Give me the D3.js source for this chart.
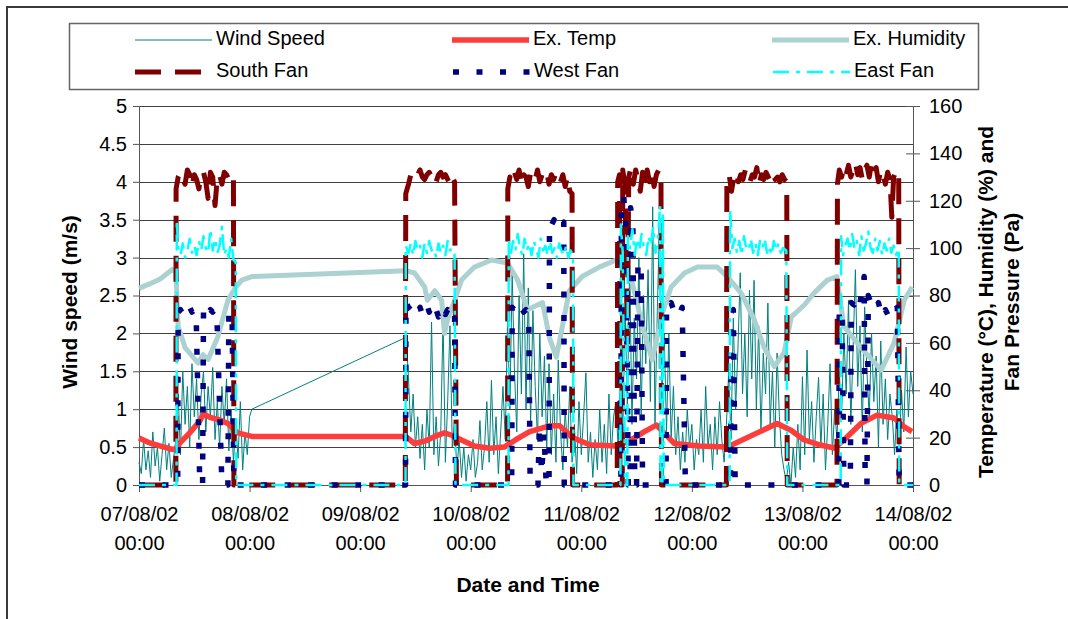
<!DOCTYPE html>
<html>
<head>
<meta charset="utf-8">
<script src="https://cdn.jsdelivr.net/npm/d3@7"></script>
<style>
  body { margin: 0; background: #fff; }
  text { font-family: "Liberation Sans", Arial, sans-serif; fill: #000; }
</style>
</head>
<body>
<svg id="chart" width="1068" height="619"></svg>
<script>
// ---- data (hours from 07/08/02 00:00) ----
var windStart1 = 0, windStart2 = 58, windStep = 0.5;
var windSeg1 = [
  0.3,0.15,0.6,0.2,0.45,0.1,0.7,0.25,0.5,0.05,0.4,0.75,0.2,0.55,0.1,0.35,
  0.6,1.2,0.4,1.5,0.8,1.3,0.5,1.6,0.9,1.4,0.6,1.2,1.5,0.7,1.3,0.9,1.55,0.6,1.1,0.5,1.3,0.8,1.4,0.45,1.0,
  0.3,0.8,0.35,1.1,0.2,0.7,0.4,0.9,1.0
];
var windSeg2 = [
  1.95,1.4,0.7,1.2,0.5,0.9,0.35,0.8,
  0.2,1.0,0.5,2.15,0.4,0.9,0.25,0.7,
  2.2,0.3,1.1,2.1,0.5,0.8,0.2,0.6,
  0.1,0.5,0.05,0.4,0.2,0.6,0.1,0.3,
  0.85,0.2,0.5,1.1,0.3,1.38,0.4,0.9,0.15,0.7,
  1.3,0.6,2.2,1.0,2.8,1.5,0.7,2.5,1.2,3.05,
  1.0,2.6,0.8,2.3,1.3,0.6,2.0,0.9,1.7,0.5,
  1.6,0.4,1.2,0.3,1.65,0.7,0.2,1.0,0.5,1.3,
  0.3,0.8,0.15,1.1,0.4,0.9,1.48,0.3,0.7,0.1,0.6,0.2,
  1.0,0.3,0.8,0.15,1.2,0.4,0.9,1.08,0.5,
  1.5,0.6,2.4,1.0,2.9,0.8,2.2,1.4,3.0,0.9,2.5,
  1.6,2.84,1.1,3.67,0.8,2.3,3.5,1.2,2.0,0.7,
  2.0,0.6,1.3,0.4,0.9,0.2,0.7,0.3,1.0,0.5,0.8,0.2,0.6,
  0.4,1.0,0.3,1.3,0.5,0.8,0.2,0.9,0.4,1.1,0.6,0.3,
  0.8,1.5,0.6,2.2,1.0,1.8,2.8,1.2,2.0,0.9,2.57,1.4,2.7,1.0,2.1,0.7,1.74,1.2,2.4,0.8,1.5,0.5,1.74,0.9,0.4,
  0.2,0.05,0.3,0.0,0.5,0.1,0.8,0.2,
  1.43,0.4,1.78,0.6,1.1,0.3,0.9,1.42,0.5,1.2,0.2,0.8,1.6,0.4,1.0,
  0.6,1.5,0.9,2.0,1.2,2.44,0.8,1.8,2.84,1.3,2.1,0.7,2.35,1.5,0.9,2.0,1.1,1.7,0.5,1.9,0.8,1.4,0.6,1.2,0.9,
  0.4,1.0,0.5,1.25,0.7,1.82,0.9,1.5,1.2
];

var exTemp = [
  [0,19.8],[2,18],[4.5,16.5],[7.2,15],[8.0,15.5],[9,18],[11,22],[13.2,27],[14,30],[15.5,28.5],
  [17.5,27.5],[19.3,26],[21.4,22],[24.5,20.5],[57.7,20.5],[58.0,20.3],[59.8,17.5],[62,18.5],
  [64.2,20.5],[66.3,22],[67.9,21],[70,19],[72.8,16.5],[76.1,15.5],[79.3,16],[81.7,19],[84.8,22.5],
  [89.1,25],[91.3,25],[94.1,20],[97.8,17],[103.6,16.5],[106.4,18.5],[109.7,22.5],[112.3,25.3],
  [114,22],[116.2,17.5],[121.6,16.5],[127.7,16],[129.9,18],[134.2,22],[138.5,26],[141.6,23],
  [144.4,19],[147.6,17],[150.9,15.6],[153,19],[156.7,26],[160.2,29.5],[163.9,28.3],[166.1,24.5],[167.8,22.5]
];

var exHumidity = [
  [0,83],[2.4,85],[4.6,87],[7.2,91],[8.0,90],[8.5,67],[10,58],[12.8,51.5],[13.9,55],[15,53],
  [17.1,62.5],[19.3,78],[20.8,83],[22.3,86.5],[24.5,88],[57.9,90.5],[59.8,89.5],[62,83.6],[62.6,78],
  [64.2,82],[65.7,78],[66.3,64],[67,70],[68.5,78],[70,86.5],[72.8,92],[76.5,95],[80,93.7],[82.2,86.5],
  [84.3,74],[87.6,77],[89.1,62],[90.6,54],[91.9,67],[93.4,82],[96.2,88],[99.9,92],[103.6,95],[104.7,94],
  [107.1,85],[109.3,67],[111.4,52.8],[113.6,72.6],[115.5,83.6],[118.4,89.5],[121.2,92],[125.5,92],
  [127.7,88],[130.7,81],[133.5,70],[135.7,58],[137.9,50],[140,55.7],[141.6,71],[144.4,76],[146.5,81],
  [149.4,86.5],[151.5,88],[153,67],[156.7,58],[161.1,48.5],[163.9,60],[166.1,78],[167.8,83.6]
];

var southFan = [
  [0,0],[8.0,0],[8.05,125],[8.5,130],[9,132],[9.5,129],[10,127],[10.5,133],[11,131],[11.5,126],[12,131],
  [12.5,129],[13,125],[13.5,131],[14,132],[14.5,128],[15,121],[15.5,132],[16,130],[16.5,118],[17,130],
  [17.5,131],[18,127],[18.5,132],[19,131],[19.5,129],[20,131],[20.5,130],[20.6,0],
  [57.8,0],[57.9,123],[58.5,127],[59,131],[59.5,130],[60,132],[60.5,131],[61,133],[61.5,130],[62,129],
  [62.5,131],[63,132],[63.5,130],[64,131],[64.5,128],[65,131],[65.5,132],[66,130],[66.5,131],[67,129],
  [67.5,127],[68,130],[68.5,128],[68.9,0],
  [80.0,0],[80.05,125],[80.5,130],[81,128],[81.5,132],[82,129],[82.5,133],[83,127],[83.5,131],[84,130],
  [84.5,126],[85,132],[85.5,131],[86,129],[86.5,133],[87,128],[87.5,131],[88,130],[88.5,132],[89,127],
  [89.5,131],[90,129],[90.5,132],[91,130],[91.5,128],[92,131],[92.5,126],[93,130],[93.5,124],[94.0,123],[94.1,0],
  [103.8,0],[103.9,128],[104.3,131],[104.4,0],[104.9,0],[105,133],[105.5,126],[106,60],[106.3,130],
  [106.8,134],[107.3,127],[107.8,133],[108.3,129],[108.8,124],[109.3,132],[109.8,126],[110.3,133],
  [110.8,128],[111.3,132],[111.8,126],[112.3,131],[112.8,133],[113.3,130],[113.4,0],
  [127.5,0],[127.6,128],[128.1,131],[128.6,124],[129.1,130],[129.6,132],[130.1,128],[130.6,131],[131.1,129],
  [131.6,133],[132.1,130],[132.6,128],[133.1,131],[133.6,130],[134.1,134],[134.6,127],[135.1,131],
  [135.6,129],[136.1,132],[136.6,130],[137.1,128],[137.6,131],[138.1,129],[138.6,130],[139.1,128],
  [139.6,131],[140.1,129],[140.6,128],[140.7,0],
  [151.5,0],[151.6,127],[152,133],[152.5,130],[153,134],[153.5,131],[154,135],[154.5,130],[155,133],
  [155.5,136],[156,131],[156.5,134],[157,129],[157.5,133],[158,135],[158.5,130],[159,136],[159.5,132],
  [160,134],[160.5,128],[161,133],[161.5,131],[162,127],[162.5,132],[163,129],[163.4,113],[163.8,130],
  [164.4,133],[164.9,131],[165.0,0],[168,0]
];

var westFan = [
  [0,0],[8.4,0],[8.5,73],[9,74],[9.5,72],[10,74],[10.5,73],[11,75],[11.5,73],[12,74],[12.4,72],[13.2,0],
  [13.8,0],[14,73],[14.5,75],[15,72],[15.5,74],[16,73],[16.5,74],[16.9,72],[18.0,0],[19.3,0],[19.5,72],
  [20.2,73],[20.6,0],
  [57.85,0],[57.95,77],[58.5,75],[59,74],[59.5,76],[60,74],[60.5,73],[61,75],[61.5,72],[62,74],[62.5,76],
  [63,73],[63.5,75],[64,72],[64.5,74],[65,71],[65.5,73],[66,75],[66.5,72],[67,74],[67.5,73],[68,71],
  [68.5,73],[68.7,0],
  [80.9,0],[81.0,75],[81.5,74],[82,76],[82.5,74],[83,75],[83.5,73],[84,74],[84.6,72],[84.9,0],[86.6,0],
  [86.9,25],[87.4,5],[87.9,22],[88.4,0],[89.0,0],[89.1,111],[89.6,110],[90.1,112],[90.6,109],[91.1,111],
  [91.6,110],[92.2,111],[92.3,0],
  [104.6,0],[104.7,116],[105.2,122],[105.7,108],[106.2,0],[106.6,0],[106.7,117],[107.2,110],[107.6,0],
  [108,0],[108.3,94],[109.0,92],[109.3,0],[114.4,0],[114.5,76],[115,75],[115.5,77],[116,74],[116.5,76],
  [117,75],[117.5,73],[117.9,75],[118.6,0],
  [128.4,0],[128.5,73],[129.0,74],[129.4,0],
  [151.9,0],[152.0,74],[152.6,74],[153.0,0],[154.4,0],[154.6,77],[155.2,76],[155.8,78],[156.4,75],
  [157.0,84],[157.4,88],[157.6,6],[158.0,0],[158.3,80],[158.8,77],[159.5,78],[160,75],[160.5,77],
  [161,73],[161.5,71],[162,74],[162.5,72],[163,75],[163.5,73],[164,74],[164.6,75],[165.0,0],[168,0]
];

var eastFan = [
  [0,0],[8.15,0],[8.2,112],[8.5,100],[9,97],[9.5,102],[10,96],[10.5,99],[11,104],[11.5,98],[12,101],
  [12.5,97],[13,103],[13.5,99],[14,105],[14.5,100],[15,98],[15.5,108],[16,99],[16.5,104],[17,98],
  [17.5,101],[18,109],[18.5,97],[19,100],[19.5,96],[20,104],[20.5,95],[21.0,94],[21.1,0],
  [57.85,0],[57.9,101],[58.5,98],[59,102],[59.5,97],[60,103],[60.5,99],[61,101],[61.5,96],[62,102],
  [62.5,98],[63,103],[63.5,99],[64,100],[64.5,96],[65,102],[65.5,98],[66,101],[66.5,97],[67,103],
  [67.5,99],[68,100],[68.5,97],[68.7,0],
  [80.2,0],[80.25,104],[80.7,98],[81.2,103],[81.7,99],[82.2,106],[82.7,100],[83.2,97],[83.7,104],
  [84.2,99],[84.7,102],[85.2,97],[85.7,103],[86.2,100],[86.7,96],[87.2,104],[87.7,99],[88.2,101],
  [88.7,97],[89.2,103],[89.7,98],[90.2,100],[90.7,96],[91.2,102],[91.7,99],[92.2,97],[92.7,101],
  [93.2,96],[93.7,99],[94.2,97],[94.3,0],
  [104.5,0],[104.6,110],[105,98],[105.5,0],[106,0],[106.1,105],[106.6,100],[107.1,108],[107.6,97],
  [108.1,104],[108.6,99],[109.1,106],[109.6,100],[110.1,97],[110.6,105],[111.1,101],[111.6,109],
  [112.1,98],[112.6,103],[113.1,118],[113.2,0],[113.6,0],[113.7,115],[113.9,0],
  [128.2,0],[128.3,116],[128.8,100],[129.3,104],[129.8,98],[130.3,103],[130.8,97],[131.3,105],
  [131.8,100],[132.3,99],[132.8,104],[133.3,98],[133.8,102],[134.3,97],[134.8,103],[135.3,100],
  [135.8,104],[136.3,98],[136.8,101],[137.3,97],[137.8,103],[138.3,99],[138.8,102],[139.3,98],
  [139.8,100],[140.5,99],[140.7,0],
  [152.3,0],[152.4,105],[152.8,97],[153.3,101],[153.8,104],[154.3,99],[154.8,106],[155.3,100],
  [155.8,103],[156.3,97],[156.8,105],[157.3,99],[157.8,102],[158.3,107],[158.8,100],[159.3,98],
  [159.8,104],[160.3,99],[160.8,103],[161.3,97],[161.8,102],[162.3,99],[162.8,104],[163.3,98],
  [163.8,101],[164.3,97],[164.8,100],[164.9,98],[165.0,0],[168,0]
];

var leftTicks = [0,0.5,1,1.5,2,2.5,3,3.5,4,4.5,5];
var rightTicks = [0,20,40,60,80,100,120,140,160];

// ---- layout ----
var svg = d3.select("#chart");
var plot = {left: 139, right: 913, top: 106, bottom: 485};
var t0 = Date.UTC(2002, 7, 7);
function hour(h) { return new Date(t0 + h * 3600e3); }

var x = d3.scaleUtc().domain([hour(0), hour(168)]).range([plot.left, plot.right]);
var yL = d3.scaleLinear().domain([0, 5]).range([plot.bottom, plot.top]);
var yR = d3.scaleLinear().domain([0, 160]).range([plot.bottom, plot.top]);

// outer frame
svg.append("rect").attr("x", 7).attr("y", 7).attr("width", 1100).attr("height", 700)
  .attr("fill", "none").attr("stroke", "#3a3a3a").attr("stroke-width", 2);

// gridlines
svg.append("g").selectAll("line").data(leftTicks.slice(1)).enter().append("line")
  .attr("x1", plot.left).attr("x2", plot.right)
  .attr("y1", function(d){ return Math.round(yL(d)) + 0.5; })
  .attr("y2", function(d){ return Math.round(yL(d)) + 0.5; })
  .attr("stroke", "#404040").attr("stroke-width", 1);

// axes
var axL = svg.append("g").attr("transform", "translate(" + plot.left + ",0)")
  .call(d3.axisLeft(yL).tickValues(leftTicks).tickSize(6).tickPadding(6).tickFormat(d3.format("")));
var axR = svg.append("g").attr("transform", "translate(" + plot.right + ",0)")
  .call(d3.axisRight(yR).tickValues(rightTicks).tickSize(7).tickPadding(9));
axR.selectAll(".tick line").attr("x1", -7);
var axB = svg.append("g").attr("transform", "translate(0," + plot.bottom + ")")
  .call(d3.axisBottom(x).ticks(d3.utcDay.every(1)).tickSize(7).tickFormat(""));

[axL, axR, axB].forEach(function(a){
  a.select(".domain").attr("stroke", "#555");
  a.selectAll(".tick line").attr("stroke", "#555");
  a.selectAll("text").style("font-size", "20px").attr("fill", "#000");
});

var fmtDate = d3.utcFormat("%d/%m/%y"), fmtTime = d3.utcFormat("%H:%M");
axB.selectAll(".tick").each(function(d){
  var g = d3.select(this);
  g.append("text").attr("y", 36).attr("text-anchor", "middle").style("font-size", "20px").text(fmtDate(d));
  g.append("text").attr("y", 65).attr("text-anchor", "middle").style("font-size", "20px").text(fmtTime(d));
});

// axis titles
svg.append("text").attr("x", 528).attr("y", 592).attr("text-anchor", "middle")
  .style("font-size", "21px").style("font-weight", "bold").text("Date and Time");
svg.append("text").attr("transform", "translate(77,302) rotate(-90)").attr("text-anchor", "middle")
  .style("font-size", "21px").style("font-weight", "bold").text("Wind speed (m/s)");
svg.append("text").attr("transform", "translate(993,302) rotate(-90)").attr("text-anchor", "middle")
  .style("font-size", "21px").style("font-weight", "bold").text("Temperature (\u00B0C), Humidity (%) and");
svg.append("text").attr("transform", "translate(1019,302) rotate(-90)").attr("text-anchor", "middle")
  .style("font-size", "21px").style("font-weight", "bold").text("Fan Pressure (Pa)");

// series
var windData = windSeg1.map(function(v, i){ return [windStart1 + i * windStep, v]; })
  .concat(windSeg2.map(function(v, i){ return [windStart2 + i * windStep, v]; }));

var lineL = d3.line().x(function(d){ return x(hour(d[0])); }).y(function(d){ return yL(d[1]); });
var lineR = d3.line().x(function(d){ return x(hour(d[0])); }).y(function(d){ return yR(d[1]); });

var styles = {
  wind:  {stroke: "#008080", width: 1,   dash: null},
  temp:  {stroke: "#ff3c3c", width: 5.5, dash: null},
  hum:   {stroke: "#abd1d1", width: 5,   dash: null},
  south: {stroke: "#800000", width: 5,   dash: "26,14"},
  west:  {stroke: "#000080", width: 5.5, dash: "6,17.5"},
  east:  {stroke: "#00ffff", width: 2.5, dash: "16,7,4,7"}
};

function drawSeries(data, gen, s) {
  svg.append("path").datum(data).attr("d", gen)
    .attr("fill", "none").attr("stroke", s.stroke).attr("stroke-width", s.width)
    .attr("stroke-dasharray", s.dash).attr("stroke-linejoin", "round");
}
drawSeries(windData, lineL, styles.wind);
drawSeries(exTemp, lineR, styles.temp);
drawSeries(exHumidity, lineR, styles.hum);
drawSeries(southFan, lineR, styles.south);
drawSeries(westFan, lineR, styles.west);
drawSeries(eastFan, lineR, styles.east);

// legend
svg.append("rect").attr("x", 69.5).attr("y", 23.5).attr("width", 909).attr("height", 66)
  .attr("fill", "#fff").attr("stroke", "#666").attr("stroke-width", 1.5);

var legendItems = [
  {name: "Wind Speed",   s: styles.wind,  x: 135, y: 40},
  {name: "Ex. Temp",     s: styles.temp,  x: 452, y: 40},
  {name: "Ex. Humidity", s: styles.hum,   x: 772, y: 40},
  {name: "South Fan",    s: styles.south, x: 135, y: 72},
  {name: "West Fan",     s: styles.west,  x: 453, y: 72},
  {name: "East Fan",     s: styles.east,  x: 773, y: 72}
];
var lg = svg.append("g").selectAll("g").data(legendItems).enter().append("g");
lg.append("line")
  .attr("x1", function(d){ return d.x; }).attr("x2", function(d){ return d.x + 77; })
  .attr("y1", function(d){ return d.y; }).attr("y2", function(d){ return d.y; })
  .attr("stroke", function(d){ return d.s.stroke; })
  .attr("stroke-width", function(d){ return d.s.width; })
  .attr("stroke-dasharray", function(d){ return d.s.dash; });
lg.append("text")
  .attr("x", function(d){ return d.x + 81; }).attr("y", function(d){ return d.y + 5; })
  .style("font-size", "20px").text(function(d){ return d.name; });
</script>
</body>
</html>
